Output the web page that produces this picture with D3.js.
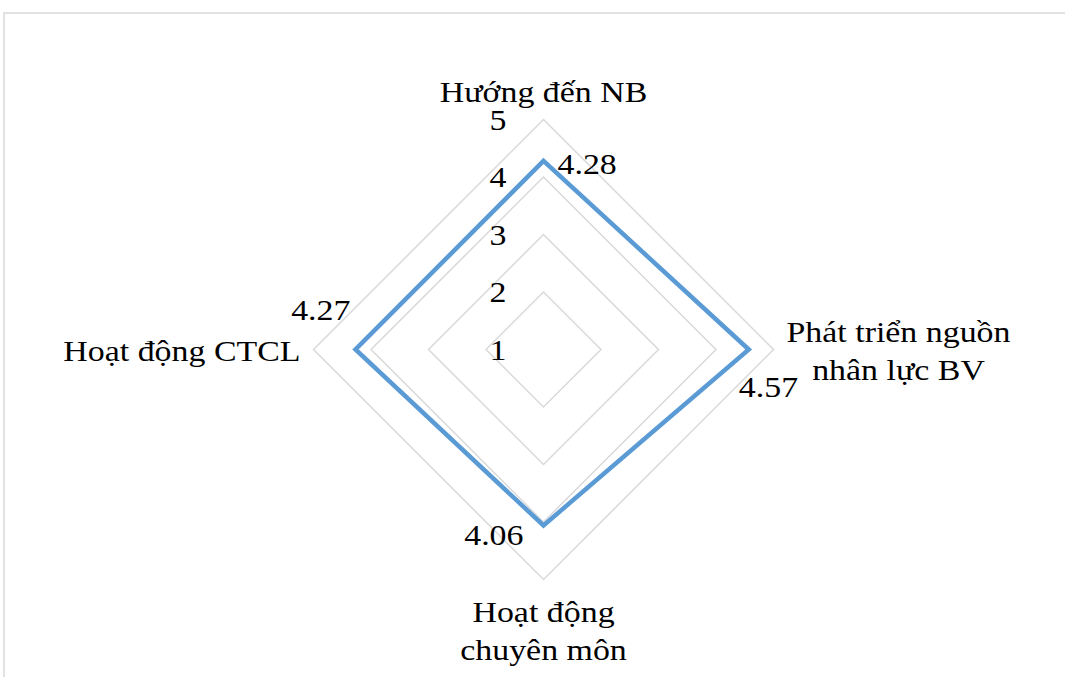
<!DOCTYPE html>
<html>
<head>
<meta charset="utf-8">
<script src="https://cdn.jsdelivr.net/npm/d3@7"></script>
<style>
  body { margin: 0; background: #fff; }
  text { font-family: "Liberation Serif", "Times New Roman", serif; fill: #000; }
</style>
</head>
<body>
<div id="chart"></div>
<script>
// chart data
const categories = [["Hướng đến NB"], ["Phát triển nguồn", "nhân lực BV"], ["Hoạt động", "chuyên môn"], ["Hoạt động CTCL"]];
const values = [4.28, 4.57, 4.06, 4.27];
const ticks = [1, 2, 3, 4, 5];

const width = 1065,
    height = 677,
    cx = 543.5,
    cy = 349.5,
    fontSize = 30,
    stretch = 1.13; // text in the picture is a bit wider than it is tall

const svg = d3.select("#chart").append("svg")
    .attr("width", width)
    .attr("height", height);

// outer frame, runs off the right and bottom edge
svg.append("rect")
    .attr("x", 4).attr("y", 13)
    .attr("width", width + 20).attr("height", height + 20)
    .attr("fill", "none")
    .attr("stroke", "#d9d9d9")
    .attr("stroke-width", 1.5);

const rScale = d3.scaleLinear().domain([1, 5]).range([0, 230]);
const angle = d3.scaleLinear().domain([0, categories.length]).range([0, 2 * Math.PI]);

const g = svg.append("g").attr("transform", "translate(" + cx + "," + cy + ")");

// grid rings
const ring = d3.lineRadial()
    .angle((d, i) => angle(i))
    .radius(d => rScale(d))
    .curve(d3.curveLinearClosed);

g.selectAll(".grid")
    .data(ticks.slice(1))
    .join("path")
    .attr("class", "grid")
    .attr("d", t => ring(categories.map(() => t)))
    .attr("fill", "none")
    .attr("stroke", "#d9d9d9")
    .attr("stroke-width", 1.5);

// series
g.append("path")
    .attr("d", ring(values))
    .attr("fill", "none")
    .attr("stroke", "#5b9bd5")
    .attr("stroke-width", 4.5)
    .attr("stroke-linejoin", "miter");

function label(parent, x, y, lines, anchor, lineHeight) {
    const t = parent.append("text")
        .attr("transform", "translate(" + x + "," + y + ") scale(" + stretch + ",1)")
        .attr("text-anchor", anchor)
        .style("font-size", fontSize + "px");
    lines.forEach((s, i) => {
        t.append("tspan").attr("x", 0).attr("dy", i ? lineHeight : 0).text(s);
    });
    return t;
}

// tick labels, along the top axis
ticks.forEach(t => {
    label(g, -37, -rScale(t) + 10, [String(t)], "end", 0);
});

function pt(v, i) {
    const a = angle(i);
    return [Math.sin(a) * rScale(v), -Math.cos(a) * rScale(v)];
}

// data labels
const dataOffsets = [[14, 13, "start"], [-10, 47, "start"], [-20, 20, "end"], [-5, -30, "end"]];
values.forEach((v, i) => {
    const p = pt(v, i);
    const o = dataOffsets[i];
    label(g, p[0] + o[0], p[1] + o[1], [v.toFixed(2)], o[2], 0);
});

// category labels
const catPos = [[0, -248, "middle"], [355, -8, "middle"], [0, 272, "middle"], [-243, 11, "end"]];
categories.forEach((c, i) => {
    const o = catPos[i];
    label(g, o[0], o[1], c, o[2], 39);
});
</script>
</body>
</html>
